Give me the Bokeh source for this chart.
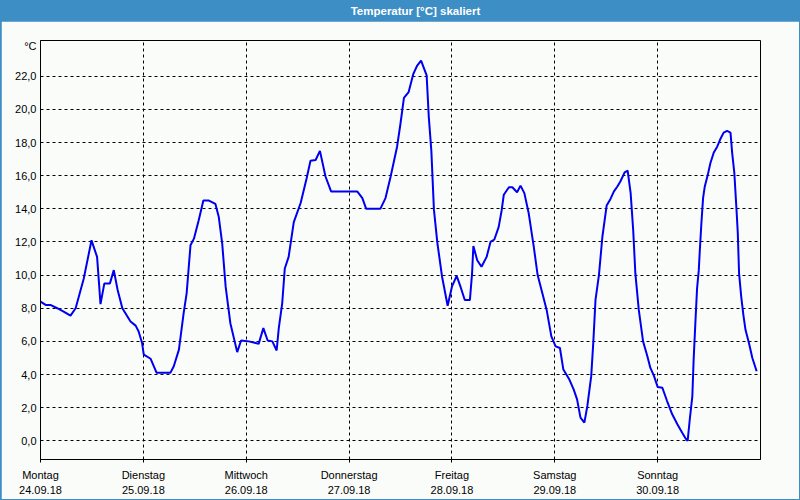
from bokeh.plotting import figure
from bokeh.models import Range1d, FixedTicker, Label
from bokeh.layouts import column
from bokeh.embed import file_html
from bokeh.resources import INLINE

# ---- data (hours since Monday 24.09.18 00:00, temperature in °C) ----
hours = [0.0, 1.2, 2.3, 3.9, 5.4, 7.0, 8.2, 10.1, 11.9, 13.2, 13.6, 14.0, 14.9, 16.2,
         17.1, 18.0, 19.1, 21.0, 22.2, 22.9, 23.7, 24.1, 25.7, 27.1, 30.3, 31.1, 32.3,
         33.4, 34.1, 35.0, 35.8, 36.9, 38.0, 39.3, 40.8, 41.6, 42.4, 43.2, 44.3, 45.9,
         46.8, 48.6, 50.2, 50.9, 52.0, 53.0, 54.1, 55.1, 55.6, 56.4, 57.0, 57.9, 59.1,
         60.7, 62.1, 63.0, 64.2, 65.2, 66.5, 67.8, 73.9, 75.1, 76.0, 79.3, 80.5, 81.7,
         83.2, 84.0, 84.8, 85.9, 87.0, 87.9, 88.8, 90.1, 90.6, 91.2, 91.8, 92.6, 93.7,
         95.0, 96.0, 97.1, 98.0, 99.0, 100.2, 100.7, 101.0, 101.9, 102.9, 104.1, 105.0,
         105.9, 106.9, 107.6, 108.1, 109.3, 110.1, 111.2, 112.0, 112.9, 113.9, 115.1,
         116.0, 117.1, 118.1, 119.2, 120.2, 121.2, 122.0, 123.3, 124.4, 125.2, 126.0,
         126.9, 127.6, 128.5, 129.0, 129.5, 130.3, 131.1, 132.1, 133.0, 133.8, 134.6,
         135.3, 136.3, 137.0, 137.7, 138.3, 138.8, 139.6, 140.6, 141.6, 142.3, 143.1,
         144.0, 145.1, 146.2, 147.4, 148.6, 149.7, 150.5, 151.0, 151.5, 152.1, 152.4,
         152.8, 153.2, 153.6, 153.8, 154.2, 154.6, 155.0, 155.7, 156.3, 157.1, 157.9,
         158.7, 159.4, 160.2, 161.0, 161.4, 161.9, 162.4, 162.7, 163.0, 163.5, 164.0,
         164.5, 165.3, 166.1, 167.1]
temps = [8.4, 8.2, 8.2, 8.0, 7.8, 7.55, 8.0, 9.8, 12.1, 11.1, 9.7, 8.25, 9.5, 9.5,
         10.3, 9.1, 8.0, 7.2, 6.95, 6.6, 5.9, 5.2, 4.95, 4.1, 4.1, 4.5, 5.5,
         7.7, 8.9, 11.8, 12.2, 13.3, 14.5, 14.5, 14.3, 13.5, 11.9, 9.3, 7.1, 5.35,
         6.05, 6.0, 5.9, 5.85, 6.8, 6.05, 6.0, 5.45, 6.8, 8.3, 10.4, 11.1, 13.2,
         14.35, 15.85, 16.9, 16.95, 17.5, 15.95, 15.05, 15.05, 14.65, 14.0, 14.0, 14.65, 15.95,
         17.75, 19.15, 20.7, 21.05, 22.15, 22.65, 22.95, 22.05, 19.55, 17.5, 13.95, 11.95, 9.9,
         8.15, 9.3, 9.95, 9.3, 8.5, 8.5, 10.1, 11.75, 10.9, 10.5, 11.1, 12.0,
         12.15, 12.9, 13.9, 14.85, 15.3, 15.3, 15.0, 15.4, 14.95, 13.75, 11.7,
         10.0, 8.9, 7.9, 6.3, 5.7, 5.6, 4.3, 3.75, 3.1, 2.5, 1.4,
         1.1, 2.1, 3.9, 6.0, 8.5, 10.0, 12.3, 14.2, 14.6, 15.05, 15.35,
         15.65, 16.2, 16.3, 14.95, 12.7, 10.1, 7.9, 6.0, 5.1, 4.4, 3.95,
         3.25, 3.2, 2.4, 1.6, 1.0, 0.5, 0.15, 0.0, 1.3, 2.7, 4.9,
         7.1, 9.2, 10.3, 11.3, 13.1, 14.65, 15.35, 16.05, 16.75, 17.4, 17.75,
         18.25, 18.6, 18.7, 18.6, 17.35, 16.15, 13.95, 12.55, 10.1, 8.7, 7.6,
         6.7, 5.9, 5.0, 4.2]

day_ticks = [0, 24, 48, 72, 96, 120, 144]
day_names = ["Montag", "Dienstag", "Mittwoch", "Donnerstag", "Freitag", "Samstag", "Sonntag"]
day_dates = ["24.09.18", "25.09.18", "26.09.18", "27.09.18", "28.09.18", "29.09.18", "30.09.18"]
y_ticks = [0, 2, 4, 6, 8, 10, 12, 14, 16, 18, 20, 22]
y_labels = ["0,0", "2,0", "4,0", "6,0", "8,0", "10,0", "12,0", "14,0", "16,0", "18,0", "20,0", "22,0"]
unit_tick = 23.85
unit_text = "°C"
title_text = "Temperatur [°C] skaliert"

BAR = "#3c8ec5"
BG = "#fafcfa"
FONT = "Liberation Sans"


def no_frame_align(fig):
    try:
        fig.frame_align = False
    except Exception:
        pass


# ---- title bar ----
tb = figure(width=800, height=21, x_range=Range1d(0, 800), y_range=Range1d(0, 21),
            toolbar_location=None, output_backend="svg",
            x_axis_location=None, y_axis_location=None, min_border=0)
no_frame_align(tb)
tb.grid.visible = False
tb.outline_line_color = None
tb.background_fill_color = BAR
tb.border_fill_color = BAR
tb.add_layout(Label(x=415, y=10.5, text=title_text, text_align="center",
                    text_baseline="middle", text_color="white", text_font=FONT,
                    text_font_style="bold", text_font_size="11.5px"))

# ---- main chart ----
p = figure(width=798, height=478, x_range=Range1d(0, 168), y_range=Range1d(-1.13, 24.16),
           toolbar_location=None, output_backend="svg",
           min_border_left=39, min_border_right=39, min_border_top=19, min_border_bottom=39,
           background_fill_color=BG, border_fill_color=BG, margin=(0, 1, 1, 1))
no_frame_align(p)
p.outline_line_color = "black"
p.outline_line_alpha = 1.0
p.outline_line_width = 1

p.line(hours, temps, line_color="#0000f0", line_width=2)

p.xaxis.ticker = FixedTicker(ticks=day_ticks)
p.xaxis.major_label_overrides = {t: f"{n}\n{d}" for t, n, d in zip(day_ticks, day_names, day_dates)}
p.yaxis.ticker = FixedTicker(ticks=y_ticks + [unit_tick])
y_over = {t: s for t, s in zip(y_ticks, y_labels)}
y_over[unit_tick] = unit_text
p.yaxis.major_label_overrides = y_over

for ax in (p.xaxis, p.yaxis):
    ax.axis_line_color = "black"
    ax.major_tick_line_color = "black"
    ax.minor_tick_line_color = None
    ax.major_label_text_font = FONT
    ax.major_label_text_font_size = "11px"
    ax.major_label_text_color = "black"
p.xaxis.major_tick_out = 3
p.xaxis.major_tick_in = 0
p.xaxis.major_label_standoff = 6
p.xaxis.major_label_text_line_height = 1.3
p.yaxis.major_tick_out = 0
p.yaxis.major_tick_in = 0
p.yaxis.major_label_standoff = 4

p.xgrid.ticker = FixedTicker(ticks=day_ticks[1:])
p.ygrid.ticker = FixedTicker(ticks=y_ticks)
for g in (p.xgrid, p.ygrid):
    g.grid_line_color = "black"
    g.grid_line_alpha = 1.0
    g.grid_line_dash = "3 3"
    g.grid_line_width = 1

layout = column(tb, p, spacing=0, styles={"background-color": BAR})
open("out.html", "w").write(file_html(layout, INLINE))
